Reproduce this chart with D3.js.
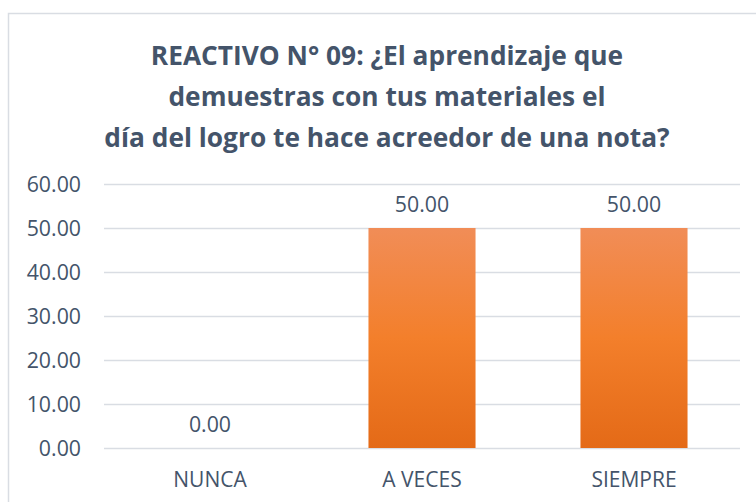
<!DOCTYPE html>
<html>
<head>
<meta charset="utf-8">
<script src="https://cdn.jsdelivr.net/npm/d3@7"></script>
<style>
  html, body { margin: 0; padding: 0; background: #fff; }
  svg { display: block; }
  text { font-family: "Open Sans", "Noto Sans", sans-serif; }
</style>
</head>
<body>
<svg id="chart" width="756" height="502"></svg>
<script>
const categories = ["NUNCA", "A VECES", "SIEMPRE"];
const values = [0.00, 50.00, 50.00];
const yTicks = [0, 10, 20, 30, 40, 50, 60];
const titleLines = [
  "REACTIVO N° 09: ¿El aprendizaje que",
  "demuestras con tus materiales el",
  "día del logro te hace acreedor de una nota?"
];

const W = 756, H = 502;
const margin = { left: 104, right: 16, top: 184, bottom: 54 };
const textColor = "#44546A";
const gridColor = "#D9DDE3";

const svg = d3.select("#chart");

// gradient
const defs = svg.append("defs");
const grad = defs.append("linearGradient")
  .attr("id", "barGrad").attr("x1", 0).attr("y1", 0).attr("x2", 0).attr("y2", 1);
grad.append("stop").attr("offset", "0%").attr("stop-color", "#F18D57");
grad.append("stop").attr("offset", "50%").attr("stop-color", "#F37F2B");
grad.append("stop").attr("offset", "100%").attr("stop-color", "#E46A17");

// chart border (left & top visible)
svg.append("path")
  .attr("d", `M8.5,${H} L8.5,13.5 L${W},13.5`)
  .attr("fill", "none").attr("stroke", "#D9DDE3").attr("stroke-width", 1.5);

// title
const title = svg.append("text")
  .attr("text-anchor", "middle")
  .attr("fill", textColor)
  .attr("font-weight", "bold")
  .attr("font-size", 26.3);
titleLines.forEach((t, i) => {
  title.append("tspan").attr("x", 387).attr("y", 65 + i * 41).text(t);
});

const x = d3.scaleBand()
  .domain(categories)
  .range([margin.left, W - margin.right])
  .paddingInner(0.495).paddingOuter(0.2475);

const y = d3.scaleLinear().domain([0, 60]).range([448, 184]);

// gridlines
const yAxis = d3.axisLeft(y)
  .tickValues(yTicks)
  .tickSize(-(W - margin.right - margin.left))
  .tickFormat(d => d3.format(".2f")(d))
  .tickPadding(23);

const gy = svg.append("g")
  .attr("transform", `translate(${margin.left},0)`)
  .call(yAxis);
gy.select(".domain").remove();
gy.selectAll(".tick line").attr("stroke", gridColor).attr("stroke-width", 1.5);
gy.selectAll(".tick text")
  .attr("fill", textColor)
  .attr("font-size", 21.3)
  .attr("dy", "0.35em");

// bars
svg.append("g").selectAll("rect")
  .data(values)
  .join("rect")
  .attr("x", (d, i) => x(categories[i]))
  .attr("width", x.bandwidth())
  .attr("y", d => y(d))
  .attr("height", d => y(0) - y(d))
  .attr("fill", "url(#barGrad)");

// value labels
svg.append("g").selectAll("text")
  .data(values)
  .join("text")
  .attr("x", (d, i) => x(categories[i]) + x.bandwidth() / 2)
  .attr("y", d => y(d) - 16)
  .attr("text-anchor", "middle")
  .attr("fill", textColor)
  .attr("font-size", 21.3)
  .text(d => d3.format(".2f")(d));

// x axis labels
const xAxis = d3.axisBottom(x).tickSize(0).tickPadding(0);
const gx = svg.append("g")
  .attr("transform", `translate(0,${y(0)})`)
  .call(xAxis);
gx.select(".domain").remove();
gx.selectAll(".tick text")
  .attr("fill", textColor)
  .attr("font-size", 21)
  .attr("dy", 0)
  .attr("y", 39);
</script>
</body>
</html>
